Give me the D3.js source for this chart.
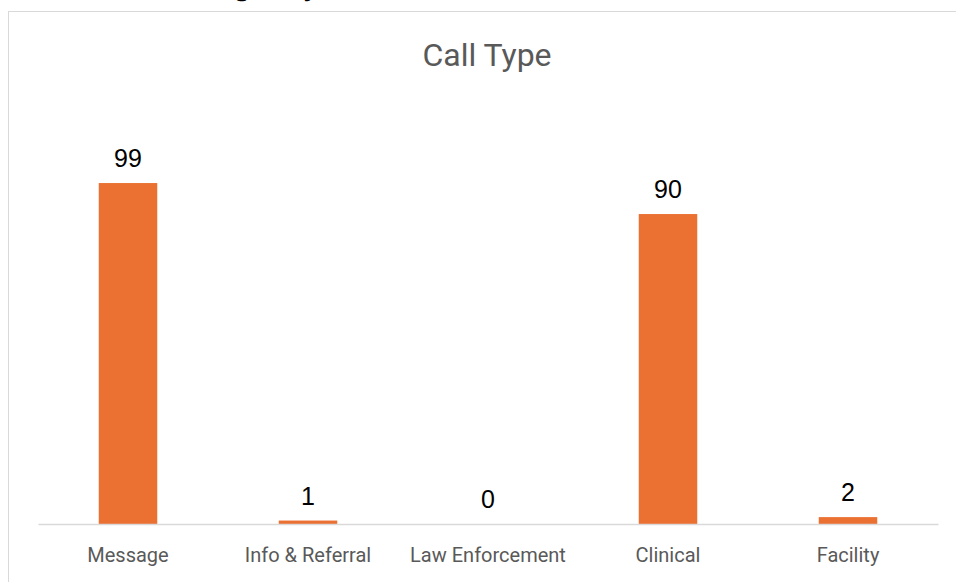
<!DOCTYPE html>
<html>
<head>
<meta charset="utf-8">
<script src="https://cdn.jsdelivr.net/npm/d3@7"></script>
<style>
  body { margin: 0; background: #fff; }
  svg { display: block; }
</style>
</head>
<body>
<div id="chart"></div>
<script>
// chart data
var categories = ["Message", "Info & Referral", "Law Enforcement", "Clinical", "Facility"];
var counts = [99, 1, 0, 90, 2];
var chartTitle = "Call Type";
var pageHeading = "Emergency";

var W = 956, H = 582;

var svg = d3.select("#chart").append("svg")
    .attr("width", W)
    .attr("height", H);

// heading of the page, mostly cut off above the chart
svg.append("text")
    .attr("x", 160)
    .attr("y", -5)
    .attr("font-family", "Inter, 'Open Sans', sans-serif")
    .attr("font-size", 30)
    .attr("fill", "#000")
    .text(pageHeading);

// chart area border
svg.append("rect")
    .attr("x", 8.5)
    .attr("y", 11.5)
    .attr("width", W)
    .attr("height", H)
    .attr("fill", "#fff")
    .attr("stroke", "#d9d9d9")
    .attr("stroke-width", 1);

svg.append("text")
    .attr("x", 487)
    .attr("y", 66)
    .attr("text-anchor", "middle")
    .attr("font-family", "Roboto, 'Open Sans', sans-serif")
    .attr("font-size", 32)
    .attr("fill", "#595959")
    .text(chartTitle);

var x = d3.scaleBand()
    .domain(categories)
    .range([38, 938])
    .paddingInner(0.675)
    .paddingOuter(0.3375);

var y = d3.scaleLinear()
    .domain([0, 100])
    .range([524, 179.6]);

svg.selectAll(".bar")
    .data(counts)
    .enter().append("rect")
    .attr("class", "bar")
    .attr("x", function(d, i) { return x(categories[i]); })
    .attr("width", x.bandwidth())
    .attr("y", function(d) { return y(d); })
    .attr("height", function(d) { return y(0) - y(d); })
    .attr("fill", "#eb7132");

// x axis
var xAxis = d3.axisBottom(x).tickSize(0).tickPadding(24);
var gx = svg.append("g")
    .attr("class", "x-axis")
    .attr("transform", "translate(0," + y(0) + ")")
    .call(xAxis);
gx.select(".domain").attr("stroke", "#d9d9d9").attr("stroke-width", 1.5);
gx.selectAll("text")
    .attr("font-family", "Roboto, sans-serif")
    .attr("font-size", 20)
    .attr("fill", "#595959");

// data labels
svg.selectAll(".label")
    .data(counts)
    .enter().append("text")
    .attr("class", "label")
    .attr("x", function(d, i) { return x(categories[i]) + x.bandwidth() / 2; })
    .attr("y", function(d) { return y(d) - 16; })
    .attr("text-anchor", "middle")
    .attr("font-family", "'Liberation Sans', Arial, sans-serif")
    .attr("font-size", 25)
    .attr("fill", "#000")
    .text(function(d) { return d; });
</script>
</body>
</html>
